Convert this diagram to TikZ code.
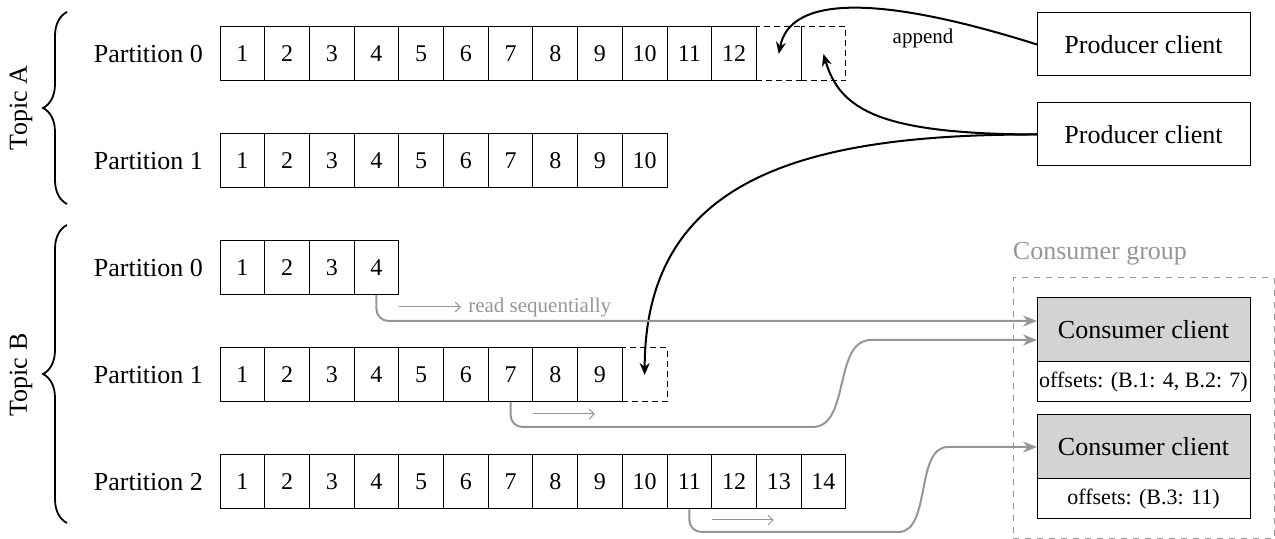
\documentclass[tikz,border=0pt]{standalone}
\usepackage{fontspec}
\setmainfont{Liberation Serif}
\newfontfamily\timesfont{Liberation Serif}
\usetikzlibrary{positioning, fit, arrows.meta, decorations.pathreplacing}

\definecolor{linegray}{RGB}{150,150,150}
\definecolor{headgray}{RGB}{211,211,211}

\begin{document}
\begin{tikzpicture}[
    x=0.5pt, y=-0.5pt,
    cell/.style={
        draw,
        line width=0.5pt,
        minimum width=22.35pt,
        minimum height=27pt,
        inner sep=0pt,
        outer sep=0pt,
        font=\timesfont\fontsize{12}{14}\selectfont
    },
    newcell/.style={
        cell,
        dash pattern=on 3pt off 2pt
    },
    partlabel/.style={font=\timesfont\fontsize{13}{15}\selectfont},
    topiclabel/.style={rotate=90, font=\timesfont\fontsize{13}{15}\selectfont},
    client/.style={
        draw,
        line width=0.5pt,
        minimum width=106.5pt,
        minimum height=31.5pt,
        inner sep=0pt,
        outer sep=0pt,
        font=\timesfont\fontsize{13}{15}\selectfont
    },
    consumer/.style={
        client,
        fill=headgray,
        minimum height=32pt
    },
    offsetbox/.style={
        client,
        minimum height=20pt,
        font=\timesfont\fontsize{11}{13}\selectfont
    },
    group/.style={draw=linegray, line width=0.5pt, dash pattern=on 3pt off 3pt},
    grouplabel/.style={text=linegray, font=\timesfont\fontsize{13}{15}\selectfont},
    note/.style={font=\timesfont\fontsize{10.5}{12}\selectfont},
    push/.style={-{Stealth[length=6pt, width=5pt]}, line width=1pt},
    pull/.style={-{Stealth[length=7pt, width=5.5pt]}, draw=linegray, line width=1pt},
    hint/.style={-{Straight Barb[length=2.5pt, width=5pt]}, draw=linegray, line width=0.5pt},
    topicbrace/.style={decorate, decoration={brace, amplitude=12pt}, line width=0.9pt}
]
\useasboundingbox (0,0) rectangle (1275,539);

% Partitions - one row of cells each
\foreach \row/\y/\n/\lab in {a0/54/12/Partition 0, a1/161/10/Partition 1,
        b0/268/4/Partition 0, b1/375/9/Partition 1, b2/482/14/Partition 2} {
    \foreach \i in {1,...,\n}
        \node[cell] (\row c\i) at ({220+(\i-0.5)*44.7}, \y) {\i};
    \node[partlabel, left=5pt of \row c1] (\row lab) {\lab};
}

% Slots for new records
\node[newcell, right=0pt of a0c12] (a0n1) {};
\node[newcell, right=0pt of a0n1] (a0n2) {};
\node[newcell, right=0pt of b1c9] (b1n1) {};

% Topics
\coordinate (atop) at (67,12);
\coordinate (abot) at (67,204);
\coordinate (btop) at (67,225);
\coordinate (bbot) at (67,523);
\draw[topicbrace] (abot) -- (atop);
\draw[topicbrace] (bbot) -- (btop);
\node[topiclabel] (topicA) at (21,108) {Topic A};
\node[topiclabel] (topicB) at (21,375) {Topic B};

% Producers
\node[client] (p1) at (1143.5,44.5) {Producer client};
\node[client, below=13.5pt of p1] (p2) {Producer client};

% Consumers
\node[consumer] (c1) at (1143.5,330) {Consumer client};
\node[offsetbox, below=0pt of c1] (c1off) {offsets: (B.1: 4, B.2: 7)};
\node[consumer, below=6.5pt of c1off] (c2) {Consumer client};
\node[offsetbox, below=0pt of c2] (c2off) {offsets: (B.3: 11)};
\node[group, fit=(c1)(c2off), inner xsep=12pt, inner ysep=10pt] (grp) {};
\node[grouplabel, anchor=south west, inner sep=0pt, yshift=6pt] (grplab) at (grp.north west) {Consumer group};

% Producer arrows
\draw[push] (p1.west) .. controls (880,-5) and (790,-5) .. (a0n1.center);
\node[note] (appendlab) at (923,38) {append};
\draw[push] (p2.west) .. controls (880,134) and (840,110) .. (a0n2.center);
\draw[push] (p2.west) .. controls (800,134) and (645,180) .. (b1n1.center);

% Consumer arrows
\draw[pull, rounded corners=6pt] (b0c4.south) |- ([yshift=4.5pt]c1.west);
\draw[pull, rounded corners=6pt] (b1c7.south) |- ++(290,25)
    .. controls +(50,0) and +(-50,0) .. ([xshift=-77pt, yshift=-5pt]c1.west)
    -- ([yshift=-5pt]c1.west);
\draw[pull, rounded corners=6pt] (b2c11.south) |- ++(197,23)
    .. controls +(45,0) and +(-45,0) .. ([xshift=-38.5pt]c2.west)
    -- (c2.west);

% Reading direction
\draw[hint] ([yshift=-6pt]b0c4.south east) -- ++(62,0)
    node[note, right, text=linegray, inner sep=3.5pt] (readlab) {read sequentially};
\draw[hint] ([yshift=-6pt]b1c7.south east) -- ++(62,0);
\draw[hint] ([yshift=-5.5pt]b2c11.south east) -- ++(62,0);

\end{tikzpicture}
\end{document}
